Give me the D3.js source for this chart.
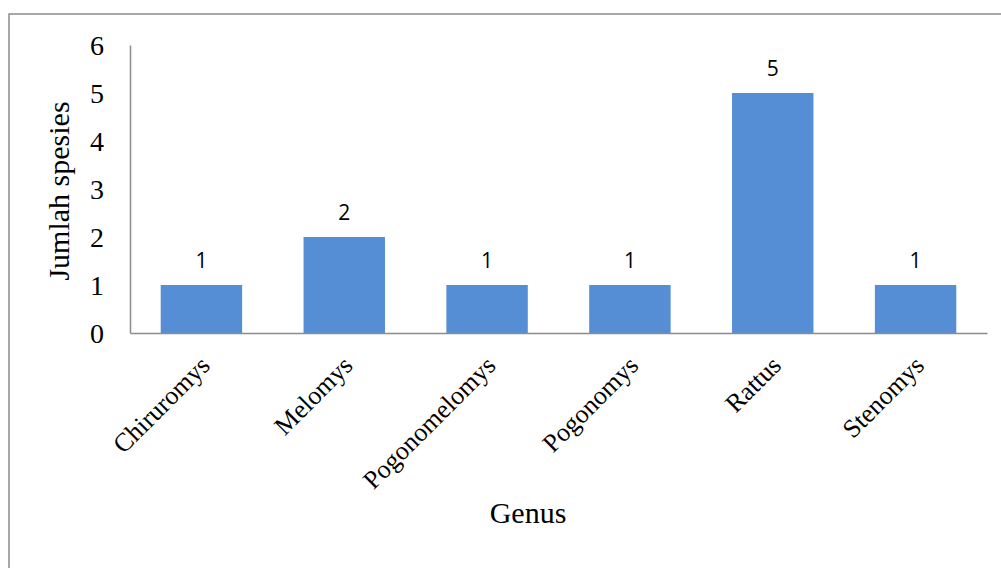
<!DOCTYPE html>
<html>
<head>
<meta charset="utf-8">
<script src="https://cdn.jsdelivr.net/npm/d3@7"></script>
<style>
  html, body { margin: 0; padding: 0; background: #fff; }
  svg { display: block; }
</style>
</head>
<body>
<script>
// Number of species per genus
const genera = ["Chiruromys", "Melomys", "Pogonomelomys", "Pogonomys", "Rattus", "Stenomys"];
const speciesCount = [1, 2, 1, 1, 5, 1];
const yTicks = [0, 1, 2, 3, 4, 5, 6];

const W = 1001, H = 568;
const plot = { left: 130, right: 987, top: 45, bottom: 333 };
const serif = "'Liberation Serif', 'Times New Roman', serif";

const svg = d3.select("body").append("svg")
  .attr("width", W).attr("height", H);

// outer chart frame
svg.append("rect")
  .attr("x", 9).attr("y", 14)
  .attr("width", W + 10).attr("height", H + 10)
  .attr("fill", "none").attr("stroke", "#8c8c8c").attr("stroke-width", 1.5);

const x = d3.scaleBand()
  .domain(genera)
  .range([plot.left, plot.right])
  .paddingInner(0.43).paddingOuter(0.215);

const y = d3.scaleLinear().domain([0, 6]).range([plot.bottom, plot.top]);

const data = genera.map((g, i) => ({ genus: g, value: speciesCount[i] }));

// bars
svg.append("g").selectAll("rect").data(data).join("rect")
  .attr("x", d => x(d.genus))
  .attr("y", d => y(d.value))
  .attr("width", x.bandwidth())
  .attr("height", d => y(0) - y(d.value))
  .attr("fill", "#558ed5");

// value labels
svg.append("g").selectAll("text").data(data).join("text")
  .attr("x", d => x(d.genus) + x.bandwidth() / 2)
  .attr("y", d => y(d.value) - 17)
  .attr("text-anchor", "middle")
  .attr("font-family", "'Open Sans', 'Liberation Sans', sans-serif")
  .attr("font-size", 21)
  .attr("fill", "#000")
  .text(d => d.value);

// y axis
const yAxis = svg.append("g")
  .attr("transform", `translate(${plot.left},0)`)
  .call(d3.axisLeft(y).tickValues(yTicks).tickSize(0).tickPadding(26).tickFormat(d3.format("d")));
yAxis.select(".domain").attr("stroke", "#8c8c8c").attr("stroke-width", 1.5);
yAxis.selectAll("text")
  .attr("font-family", serif)
  .attr("font-size", 28)
  .attr("fill", "#000")
  .attr("dy", "0.34em");

// x axis
const xAxis = svg.append("g")
  .attr("transform", `translate(0,${plot.bottom})`)
  .call(d3.axisBottom(x).tickSize(0).tickPadding(0));
xAxis.select(".domain").attr("stroke", "#8c8c8c").attr("stroke-width", 1.5);
xAxis.selectAll("text")
  .attr("font-family", serif)
  .attr("font-size", 26)
  .attr("fill", "#000")
  .attr("text-anchor", "end")
  .attr("dy", null)
  .attr("y", 0)
  .attr("transform", "translate(10,34) rotate(-45)");

// axis titles
svg.append("text")
  .attr("transform", `translate(69,${(plot.top + plot.bottom) / 2 + 2}) rotate(-90)`)
  .attr("text-anchor", "middle")
  .attr("font-family", serif)
  .attr("font-size", 30)
  .attr("fill", "#000")
  .text("Jumlah spesies");

svg.append("text")
  .attr("x", 528).attr("y", 523)
  .attr("text-anchor", "middle")
  .attr("font-family", serif)
  .attr("font-size", 30)
  .attr("fill", "#000")
  .text("Genus");
</script>
</body>
</html>
